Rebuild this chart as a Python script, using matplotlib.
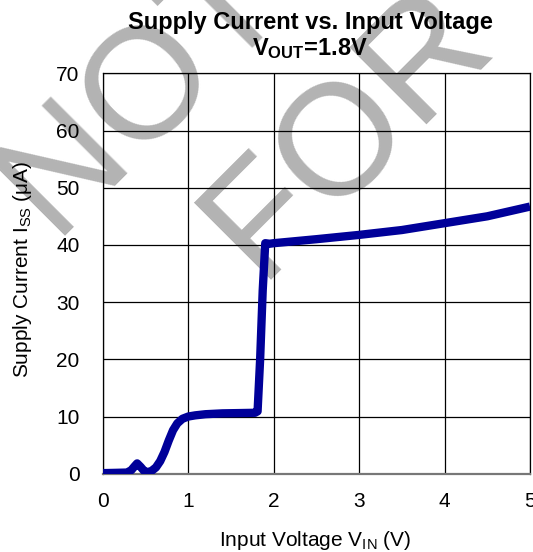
import matplotlib
matplotlib.use("Agg")
import matplotlib.pyplot as plt

plt.rcParams["font.family"] = ["Liberation Sans", "DejaVu Sans"]
plt.rcParams["mathtext.fontset"] = "custom"
plt.rcParams["mathtext.rm"] = "Liberation Sans"
plt.rcParams["mathtext.it"] = "Liberation Sans"
plt.rcParams["mathtext.bf"] = "Liberation Sans:bold"

# supply current curve
vin = [0.0, 0.15, 0.28, 0.33, 0.37, 0.40, 0.44, 0.48, 0.52, 0.57, 0.62, 0.67,
       0.72, 0.77, 0.82, 0.87, 0.93, 1.00, 1.08, 1.20, 1.40, 1.60, 1.78, 1.81,
       1.84, 1.87, 1.90, 1.95, 2.0, 2.5, 3.0, 3.5, 4.0, 4.5, 5.0]
iss = [0.1, 0.15, 0.2, 0.6, 1.3, 1.8, 1.2, 0.5, 0.25, 0.5, 1.1, 2.2,
       3.8, 5.8, 7.6, 8.8, 9.6, 10.0, 10.2, 10.4, 10.55, 10.6, 10.65, 10.9,
       20.0, 32.0, 40.3, 40.2, 40.3, 41.0, 41.75, 42.6, 43.8, 45.0, 46.7]

x_ticks = [0, 1, 2, 3, 4, 5]
y_ticks = [0, 10, 20, 30, 40, 50, 60, 70]
watermark = ["NOT", "FOR"]

W, H = 533, 552
px = lambda x, y: (x / W, 1 - y / H)  # pixel -> figure coords

fig = plt.figure(figsize=(W / 100, H / 100), dpi=100)
ax = fig.add_axes([103 / W, 1 - 473.7 / H, (530 - 103) / W, (473.7 - 73.3) / H])

# faint watermark behind everything
for txt, (x0, y0) in zip(watermark, [(53, 236), (259, 280)]):
    fig.text(*px(x0, y0), txt, rotation=45, rotation_mode="anchor",
             ha="left", va="baseline", fontsize=114, color="#b3b3b3", zorder=-5)
ax.patch.set_alpha(0)

ax.plot(vin, iss, color="#000099", lw=6, solid_joinstyle="round",
        solid_capstyle="butt", zorder=3)

ax.set_xlim(0, 5)
ax.set_ylim(0, 70)
ax.set_xticks(x_ticks)
ax.set_yticks(y_ticks)
ax.tick_params(length=0, labelsize=15)
ax.tick_params(axis="y", pad=17)
ax.tick_params(axis="x", pad=13)
ax.grid(True, color="black", lw=0.9)
for s in ax.spines.values():
    s.set_color("black")
    s.set_linewidth(0.9)
ax.spines["bottom"].set_color("#777777")
ax.spines["bottom"].set_linewidth(1.6)

fig.text(*px(315, 546), r"Input Voltage V$_{\mathrm{IN}}$ (V)", ha="center",
         va="baseline", fontsize=15)
fig.text(*px(28, 269), r"Supply Current I$_{\mathrm{SS}}$ ($\mu$A)", ha="center",
         va="baseline", rotation=90, rotation_mode="anchor", fontsize=15)

fig.text(*px(310, 28.5), "Supply Current vs. Input Voltage", ha="center",
         va="baseline", fontsize=17, fontweight="bold")
fig.text(*px(310, 55), r"V$_{\mathbf{OUT}}$=1.8V", ha="center",
         va="baseline", fontsize=17, fontweight="bold")

fig.savefig("out.png", dpi=100)
